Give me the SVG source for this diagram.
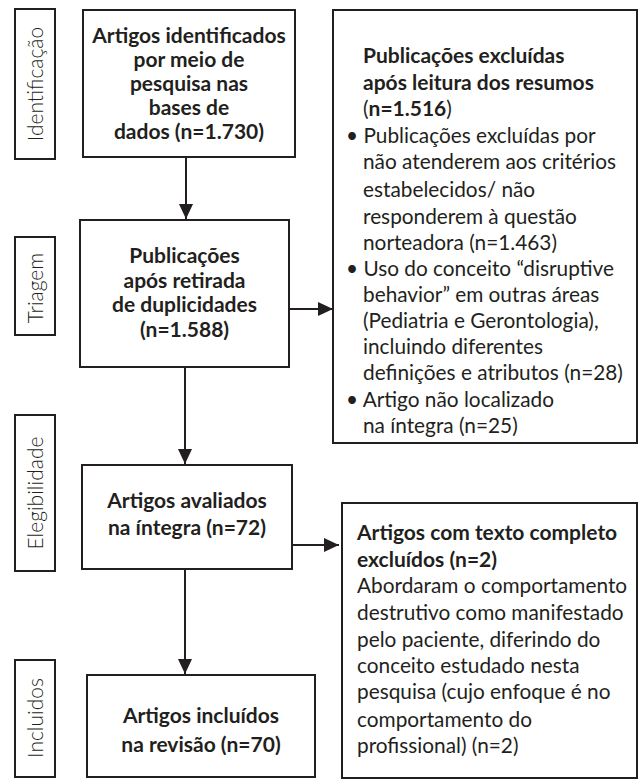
<svg xmlns="http://www.w3.org/2000/svg" width="643" height="780" viewBox="0 0 643 780">
<style>
.box{fill:#fff;stroke:#231f20;stroke-width:2}
.lbl{fill:#fff;stroke:#231f20;stroke-width:2}
.b{font-family:Lato,"Noto Sans",sans-serif;font-weight:700;font-size:21px;fill:#231f20}
.r{font-family:Lato,"Noto Sans",sans-serif;font-weight:400;font-size:20.8px;fill:#231f20}
.v{font-family:Lato,"Noto Sans",sans-serif;font-weight:300;font-size:21px;fill:#231f20}
.c{text-anchor:middle}
.ln{stroke:#231f20;stroke-width:2;fill:none}
</style>
<defs>
<marker id="ah" markerUnits="userSpaceOnUse" markerWidth="16" markerHeight="14" refX="15" refY="7" orient="auto">
<path d="M0,0 L15,7 L0,14 Z" fill="#231f20"/>
</marker>
</defs>
<rect width="643" height="780" fill="#fff"/>
<g id="stage-identificacao">
<rect class="lbl" x="15" y="9" width="40" height="150"/>
<text class="v c" transform="translate(43,84) rotate(-90)">Identificação</text>
</g>
<g id="stage-triagem">
<rect class="lbl" x="15" y="237" width="40" height="98"/>
<text class="v c" transform="translate(43,288) rotate(-90)">Triagem</text>
</g>
<g id="stage-elegibilidade">
<rect class="lbl" x="15" y="415" width="40" height="156"/>
<text class="v c" transform="translate(43,493) rotate(-90)">Elegibilidade</text>
</g>
<g id="stage-incluidos">
<rect class="lbl" x="15" y="660" width="40" height="117"/>
<text class="v c" transform="translate(43,718) rotate(-90)">Incluidos</text>
</g>
<g id="box-identificados">
<rect class="box" x="83" y="10" width="212" height="147"/>
<text class="b c" x="189" y="43">Artigos identificados</text>
<text class="b c" x="189" y="67">por meio de</text>
<text class="b c" x="189" y="91">pesquisa nas</text>
<text class="b c" x="189" y="115">bases de</text>
<text class="b c" x="189" y="139">dados (n=1.730)</text>
</g>
<g id="box-triagem">
<rect class="box" x="80" y="220" width="209" height="147"/>
<text class="b c" x="184.5" y="263">Publicações</text>
<text class="b c" x="184.5" y="288">após retirada</text>
<text class="b c" x="184.5" y="312">de duplicidades</text>
<text class="b c" x="184.5" y="337">(n=1.588)</text>
</g>
<g id="box-excluidas">
<rect class="box" x="333" y="10" width="304" height="433"/>
<text class="b" x="363" y="63">Publicações excluídas</text>
<text class="b" x="363" y="90">após leitura dos resumos</text>
<text class="r" x="363" y="116">(<tspan class="b">n=1.516</tspan>)</text>
<text class="r" x="346" y="143">• Publicações excluídas por</text>
<text class="r" x="363" y="169">não atenderem aos critérios</text>
<text class="r" x="363" y="197">estabelecidos/ não</text>
<text class="r" x="363" y="224">responderem à questão</text>
<text class="r" x="363" y="250">norteadora (n=1.463)</text>
<text class="r" x="346" y="276">• Uso do conceito “disruptive</text>
<text class="r" x="363" y="302">behavior” em outras áreas</text>
<text class="r" x="363" y="328">(Pediatria e Gerontologia),</text>
<text class="r" x="363" y="354">incluindo diferentes</text>
<text class="r" x="363" y="380">definições e atributos (n=28)</text>
<text class="r" x="346" y="407">• Artigo não localizado</text>
<text class="r" x="363" y="433">na íntegra (n=25)</text>
</g>
<g id="box-avaliados">
<rect class="box" x="82" y="465" width="210" height="104"/>
<text class="b c" x="187" y="508">Artigos avaliados</text>
<text class="b c" x="187" y="535">na íntegra (n=72)</text>
</g>
<g id="box-texto-completo">
<rect class="box" x="342" y="503" width="295" height="275"/>
<text class="b" x="357" y="540">Artigos com texto completo</text>
<text class="b" x="357" y="567">excluídos (n=2)</text>
<text class="r" x="357" y="593">Abordaram o comportamento</text>
<text class="r" x="357" y="620">destrutivo como manifestado</text>
<text class="r" x="357" y="647">pelo paciente, diferindo do</text>
<text class="r" x="357" y="673">conceito estudado nesta</text>
<text class="r" x="357" y="699">pesquisa (cujo enfoque é no</text>
<text class="r" x="357" y="727">comportamento do</text>
<text class="r" x="357" y="753">profissional) (n=2)</text>
</g>
<g id="box-incluidos">
<rect class="box" x="87" y="675" width="228" height="102"/>
<text class="b c" x="201" y="723">Artigos incluídos</text>
<text class="b c" x="201" y="752">na revisão (n=70)</text>
</g>
<g id="connectors">
<line class="ln" x1="186" y1="157" x2="186" y2="219" marker-end="url(#ah)"/>
<line class="ln" x1="185" y1="367" x2="185" y2="464" marker-end="url(#ah)"/>
<line class="ln" x1="185" y1="569" x2="185" y2="674" marker-end="url(#ah)"/>
<line class="ln" x1="289" y1="309" x2="333" y2="309" marker-end="url(#ah)"/>
<line class="ln" x1="292" y1="545" x2="339" y2="545" marker-end="url(#ah)"/>
</g>
</svg>
